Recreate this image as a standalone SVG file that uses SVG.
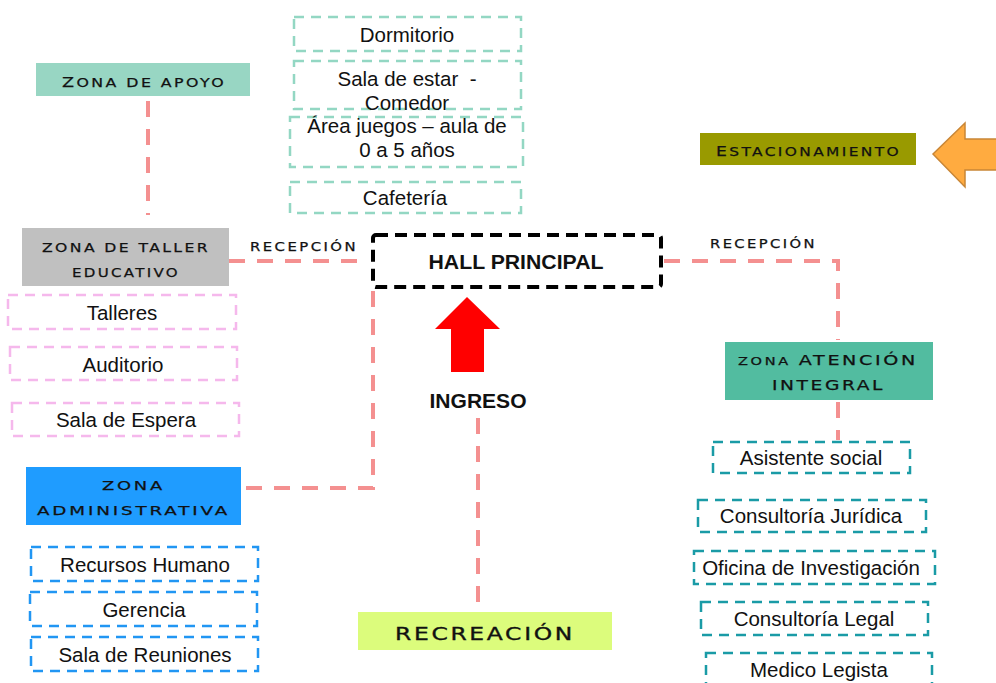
<svg xmlns="http://www.w3.org/2000/svg" width="996" height="683" viewBox="0 0 996 683">
<style>
.t{font-family:"Liberation Sans",Arial,sans-serif;font-size:20.5px;fill:#111;text-anchor:middle}
.b{font-family:"Liberation Sans",Arial,sans-serif;font-size:20px;font-weight:bold;fill:#111;text-anchor:middle}
.w{font-family:"DejaVu Sans",sans-serif;font-size:13px;fill:#111;stroke:#111;stroke-width:0.25px;letter-spacing:2px}
.big{font-size:14.5px}
.g{fill:#fff;stroke:#93d7c3;stroke-width:2.5;stroke-dasharray:10 7}
.p{fill:#fff;stroke:#f5b8ec;stroke-width:2.5;stroke-dasharray:10 7}
.bl{fill:#fff;stroke:#2196f3;stroke-width:2.5;stroke-dasharray:10 7}
.tl{fill:#fff;stroke:#1a9ba6;stroke-width:2.5;stroke-dasharray:10 7}
.c{fill:none;stroke:#f49090;stroke-width:4;stroke-dasharray:16 12}
</style>
<rect width="996" height="683" fill="#fff"/>
<g id="connectors">
<path class="c" d="M148 101 V215"/>
<path class="c" d="M229 261 H360"/>
<path class="c" d="M664 261 H838 V340"/>
<path class="c" d="M838 402 V440"/>
<path class="c" d="M373 291 V488 H241"/>
<path class="c" d="M478 418 V618"/>
</g>
<g id="zona-apoyo">
<rect x="36" y="63" width="214" height="33" fill="#98d6c3"/>
<text class="w" x="62" y="87" textLength="164" lengthAdjust="spacingAndGlyphs"><tspan class="big">Z</tspan>ONA DE APOYO</text>
</g>
<g id="zona-taller">
<rect x="22" y="228" width="207" height="58" fill="#c0c0c0"/>
<text class="w" x="42" y="252" textLength="168" lengthAdjust="spacingAndGlyphs">ZONA DE TALLER</text>
<text class="w" x="72" y="277" textLength="108" lengthAdjust="spacingAndGlyphs">EDUCATIVO</text>
</g>
<g id="recepcion-izq"><text class="w" x="250" y="251" style="font-size:12px" textLength="108" lengthAdjust="spacingAndGlyphs">RECEPCIÓN</text></g>
<g id="recepcion-der"><text class="w" x="710" y="248" style="font-size:12px" textLength="107" lengthAdjust="spacingAndGlyphs">RECEPCIÓN</text></g>
<g id="hall">
<rect x="373" y="235" width="288" height="52" rx="3" fill="#fff" stroke="#000" stroke-width="4" stroke-dasharray="12 7"/>
<text class="b" x="516" y="269" textLength="175" lengthAdjust="spacingAndGlyphs">HALL PRINCIPAL</text>
</g>
<g id="ingreso">
<polygon points="467,297 500,329 484,329 484,372 451,372 451,329 435,329" fill="#ff0000"/>
<text class="b" x="478" y="408" textLength="97" lengthAdjust="spacingAndGlyphs">INGRESO</text>
</g>
<g id="dormitorio"><rect class="g" x="294" y="17" width="227" height="34"/><text class="t" x="407" y="42">Dormitorio</text></g>
<g id="sala-estar"><rect class="g" x="294" y="61" width="227" height="48"/><text class="t" x="407" y="86" xml:space="preserve">Sala de estar  -</text><text class="t" x="407" y="110">Comedor</text></g>
<g id="area-juegos"><rect class="g" x="290" y="117" width="233" height="50"/><text class="t" x="407" y="133">Área juegos – aula de</text><text class="t" x="407" y="157">0 a 5 años</text></g>
<g id="cafeteria"><rect class="g" x="290" y="182" width="231" height="31"/><text class="t" x="405" y="205">Cafetería</text></g>
<g id="talleres"><rect class="p" x="8" y="295" width="228" height="34"/><text class="t" x="122" y="320">Talleres</text></g>
<g id="auditorio"><rect class="p" x="10" y="347" width="227" height="33"/><text class="t" x="123" y="372">Auditorio</text></g>
<g id="sala-espera"><rect class="p" x="12" y="403" width="227" height="33"/><text class="t" x="126" y="427">Sala de Espera</text></g>
<g id="zona-administrativa">
<rect x="26" y="467" width="215" height="58" fill="#1f9cff"/>
<text class="w" x="102" y="490" textLength="63" lengthAdjust="spacingAndGlyphs">ZONA</text>
<text class="w" x="37" y="515" textLength="193" lengthAdjust="spacingAndGlyphs">ADMINISTRATIVA</text>
</g>
<g id="recursos"><rect class="bl" x="31" y="547" width="227" height="34"/><text class="t" x="145" y="572">Recursos Humano</text></g>
<g id="gerencia"><rect class="bl" x="30" y="592" width="227" height="34"/><text class="t" x="144" y="617">Gerencia</text></g>
<g id="sala-reuniones"><rect class="bl" x="31" y="637" width="227" height="34"/><text class="t" x="145" y="662">Sala de Reuniones</text></g>
<g id="recreacion">
<rect x="358" y="612" width="254" height="38" fill="#dcfc7c"/>
<text class="w" x="395" y="640" style="font-size:17.5px;stroke-width:0.35px" textLength="180" lengthAdjust="spacingAndGlyphs">RECREACIÓN</text>
</g>
<g id="estacionamiento">
<rect x="700" y="133" width="216" height="32" fill="#999a00"/>
<text class="w" x="716" y="156" textLength="185" lengthAdjust="spacingAndGlyphs"><tspan class="big">E</tspan>STACIONAMIENTO</text>
</g>
<g id="flecha-estacionamiento">
<polygon points="933,154 965,123 965,139 1000,139 1000,170 965,170 965,187" fill="#ffab40" stroke="#c98636" stroke-width="1.5"/>
</g>
<g id="zona-atencion">
<rect x="725" y="342" width="208" height="58" fill="#52bca0"/>
<text class="w" x="738" y="365" textLength="180" lengthAdjust="spacingAndGlyphs"><tspan style="font-size:11px">ZONA</tspan> <tspan class="big">ATENCIÓN</tspan></text>
<text class="w big" x="772" y="390" textLength="113" lengthAdjust="spacingAndGlyphs">INTEGRAL</text>
</g>
<g id="asistente"><rect class="tl" x="713" y="442" width="197" height="31"/><text class="t" x="811" y="465">Asistente social</text></g>
<g id="juridica"><rect class="tl" x="698" y="500" width="228" height="32"/><text class="t" x="811" y="523">Consultoría Jurídica</text></g>
<g id="investigacion"><rect class="tl" x="694" y="551" width="241" height="33"/><text class="t" x="811" y="575">Oficina de Investigación</text></g>
<g id="legal"><rect class="tl" x="701" y="602" width="227" height="33"/><text class="t" x="814" y="626">Consultoría Legal</text></g>
<g id="medico"><rect class="tl" x="706" y="653" width="226" height="40"/><text class="t" x="819" y="677">Medico Legista</text></g>
</svg>
